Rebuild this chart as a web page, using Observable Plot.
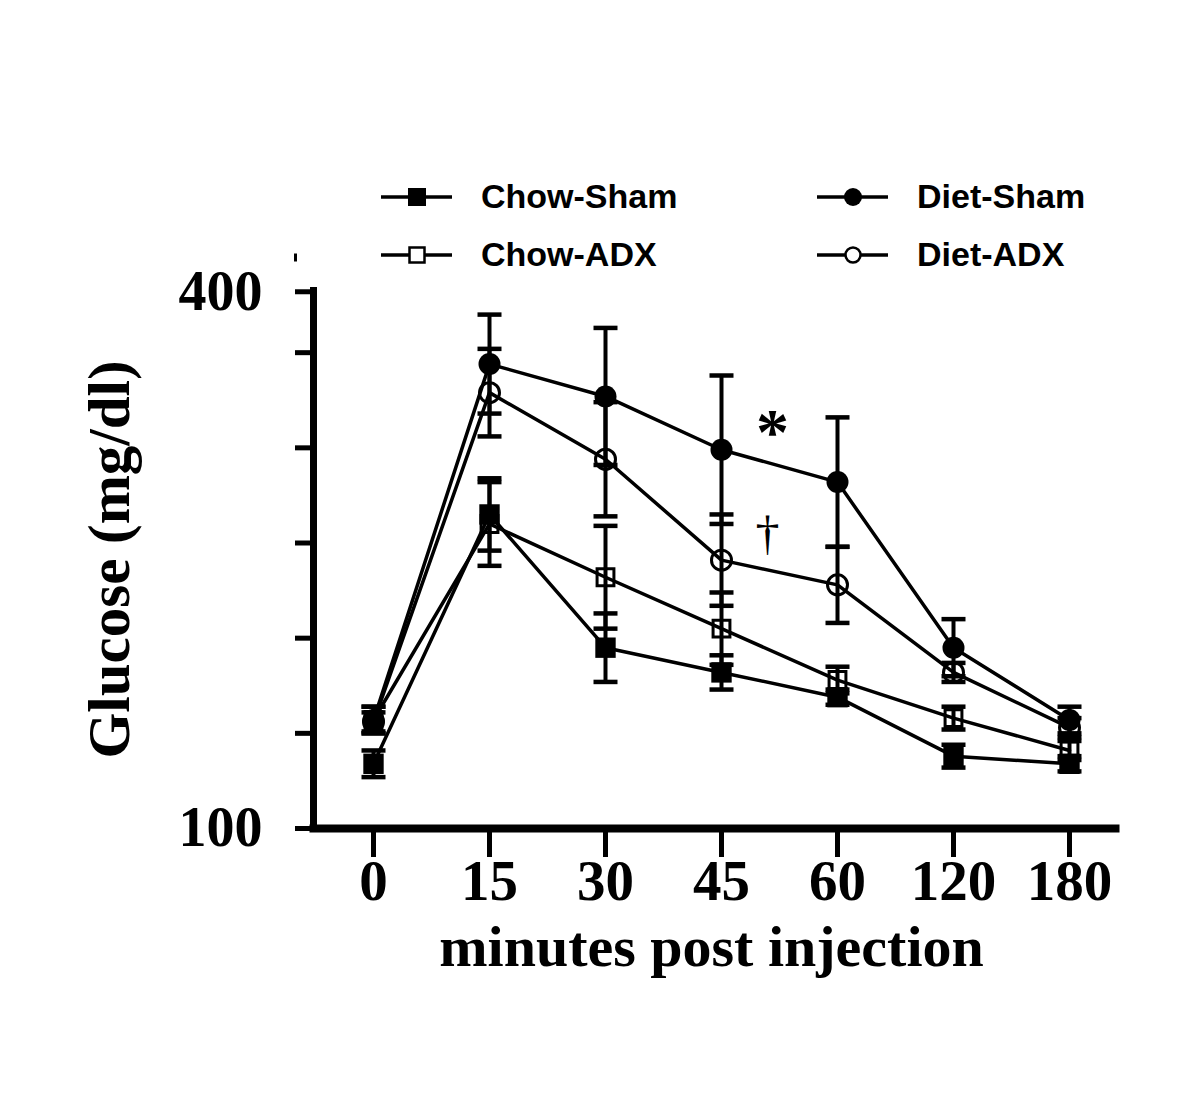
<!DOCTYPE html>
<html>
<head>
<meta charset="utf-8">
<script src="https://cdn.jsdelivr.net/npm/d3@7"></script>
<script src="https://cdn.jsdelivr.net/npm/@observablehq/plot@0.6"></script>
<style>
  html, body { margin: 0; padding: 0; background: #fff; }
  #wrap { position: relative; width: 1196px; height: 1102px; }
  #wrap svg { display: block; }
</style>
</head>
<body>
<div id="wrap"></div>
<script>
// ---- data ----
const times = ["0", "15", "30", "45", "60", "120", "180"];
const seriesNames = ["Chow-Sham", "Chow-ADX", "Diet-Sham", "Diet-ADX"];
const chowSham    = [134, 265, 195, 182, 169, 138, 134];
const chowShamSem = [7, 19, 18, 9, 4, 6, 4];
const chowAdx     = [157, 260, 232, 205, 178, 158, 141];
const chowAdxSem  = [7, 22, 27, 19, 7, 6, 5];
const dietSham    = [157, 344, 327, 299, 282, 195, 157];
const dietShamSem = [7, 26, 36, 39, 34, 15, 7];
const dietAdx     = [156, 329, 294, 241, 228, 182, 153];
const dietAdxSem  = [5, 23, 30, 24, 20, 5, 5];
const yTicks      = [100, 150, 200, 250, 300, 350, 382];
const yTickLabels = ["100", "", "", "", "", "", "400"];
const yTitle = "Glucose (mg/dl)";
const xTitle = "minutes post injection";
const annotations = [
  {time: "45", value: 308, label: "*"},
  {time: "45", value: 255, label: "\u2020"}
];

// ---- build table ----
const means = [chowSham, chowAdx, dietSham, dietAdx];
const sems = [chowShamSem, chowAdxSem, dietShamSem, dietAdxSem];
const rows = [];
seriesNames.forEach((s, k) => {
  times.forEach((t, i) => {
    rows.push({series: s, time: t, value: means[k][i], lo: means[k][i] - sems[k][i], hi: means[k][i] + sems[k][i]});
  });
});
const bySeries = (name) => rows.filter(d => d.series === name);

// horizontal cap symbol for error bars
const capSymbol = {draw(context, size) { const w = 12; context.moveTo(-w, 0); context.lineTo(w, 0); }};

const serif = "'Liberation Serif', 'Times New Roman', serif";

const chart = Plot.plot({
  width: 1196,
  height: 1102,
  marginLeft: 313,
  marginRight: 81,
  marginTop: 290,
  marginBottom: 274,
  x: {type: "point", domain: times, range: [372, 1070], padding: 0},
  y: {domain: [100, 400], range: [828, 257]},
  style: {fontFamily: serif, fontWeight: "bold", fontSize: "56px", color: "black", background: "white"},
  marks: [
    Plot.frame({anchor: "left", strokeWidth: 7}),
    Plot.frame({anchor: "bottom", strokeWidth: 8}),
    Plot.axisY({ticks: yTicks, tickFormat: (d, i) => yTickLabels[i], tickSize: 18, tickPadding: 33,
                strokeWidth: 5, fontSize: 56, fontWeight: "bold", fontFamily: serif, label: null}),
    Plot.axisY({ticks: [400], tickFormat: () => "", tickSize: 3, dx: -16, strokeWidth: 8, label: null}),
    Plot.axisX({tickSize: 29, tickPadding: 2, strokeWidth: 5, fontSize: 57, fontWeight: "bold", fontFamily: serif, label: null}),
    Plot.text([yTitle], {frameAnchor: "left", textAnchor: "middle", dx: -203, rotate: -90, fontSize: 59, fontWeight: "bold", fontFamily: serif}),
    Plot.text([xTitle], {frameAnchor: "bottom", textAnchor: "middle", dx: -3, dy: 137, fontSize: 58, fontWeight: "bold", fontFamily: serif}),
    Plot.line(rows, {x: "time", y: "value", z: "series", stroke: "black", strokeWidth: 3.5}),
    Plot.ruleX(rows, {x: "time", y1: "lo", y2: "hi", stroke: "black", strokeWidth: 4}),
    Plot.dot(rows, {x: "time", y: "lo", symbol: capSymbol, stroke: "black", strokeWidth: 4.5, fill: "none"}),
    Plot.dot(rows, {x: "time", y: "hi", symbol: capSymbol, stroke: "black", strokeWidth: 4.5, fill: "none"}),
    Plot.dot(bySeries("Diet-ADX"), {x: "time", y: "value", r: 10, stroke: "black", strokeWidth: 3, fill: "none"}),
    Plot.dot(bySeries("Chow-ADX"), {x: "time", y: "value", symbol: "square", r: 9.5, stroke: "black", strokeWidth: 3, fill: "none"}),
    Plot.dot(bySeries("Diet-Sham"), {x: "time", y: "value", r: 11, fill: "black"}),
    Plot.dot(bySeries("Chow-Sham"), {x: "time", y: "value", symbol: "square", r: 11.5, fill: "black"}),
    Plot.text(annotations.slice(0, 1), {x: "time", y: "value", text: "label", dx: 51, fontSize: 66, fontWeight: "bold", fontFamily: serif, fill: "black"}),
    Plot.text(annotations.slice(1), {x: "time", y: "value", text: "label", dx: 46, fontSize: 48, fontWeight: "normal", fontFamily: serif, fill: "black"})
  ]
});
document.getElementById("wrap").appendChild(chart);

// ---- legend (above the plot area) ----
const legendItems = [
  {name: "Chow-Sham", col: 0, row: 0, shape: "square", filled: true},
  {name: "Chow-ADX",  col: 0, row: 1, shape: "square", filled: false},
  {name: "Diet-Sham", col: 1, row: 0, shape: "circle", filled: true},
  {name: "Diet-ADX",  col: 1, row: 1, shape: "circle", filled: false}
];
const leg = d3.select("#wrap").append("svg")
  .attr("width", 1196).attr("height", 300)
  .style("position", "absolute").style("left", "0px").style("top", "0px");
const g = leg.selectAll("g").data(legendItems).join("g")
  .attr("transform", d => `translate(${381 + d.col * 436},${197 + d.row * 58})`);
g.append("line").attr("x1", 0).attr("x2", 71).attr("y1", 0).attr("y2", 0)
  .attr("stroke", "black").attr("stroke-width", 3.5);
g.filter(d => d.shape === "square").append("rect")
  .attr("x", d => d.filled ? 27 : 28.5).attr("y", d => d.filled ? -9 : -7.5)
  .attr("width", d => d.filled ? 18 : 15).attr("height", d => d.filled ? 18 : 15)
  .attr("fill", d => d.filled ? "black" : "white").attr("stroke", "black").attr("stroke-width", d => d.filled ? 0 : 2.5);
g.filter(d => d.shape === "circle").append("circle")
  .attr("cx", 36).attr("cy", 0).attr("r", d => d.filled ? 9 : 7.5)
  .attr("fill", d => d.filled ? "black" : "white").attr("stroke", "black").attr("stroke-width", d => d.filled ? 0 : 2.5);
g.append("text").attr("x", 100).attr("y", 11)
  .attr("font-family", "'Liberation Sans', Arial, sans-serif").attr("font-weight", "bold").attr("font-size", 34)
  .text(d => d.name);
</script>
</body>
</html>
